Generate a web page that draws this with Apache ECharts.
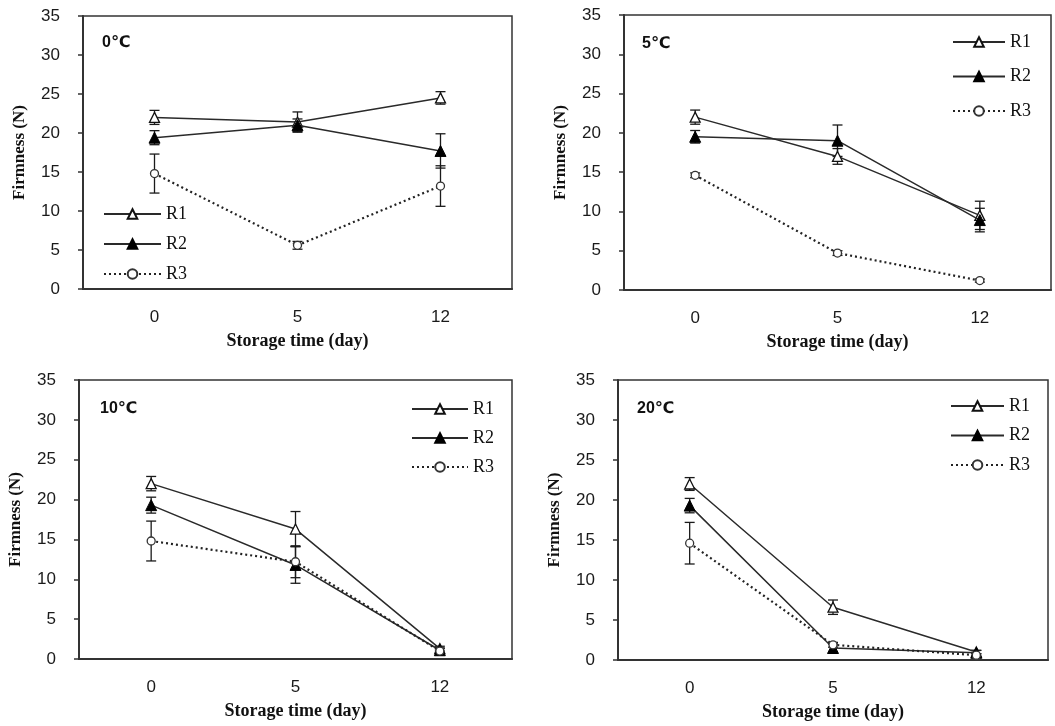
<!DOCTYPE html>
<html>
<head>
<meta charset="utf-8">
<script src="https://cdn.jsdelivr.net/npm/echarts@6/dist/echarts.min.js"></script>
<style>
html,body{margin:0;padding:0;background:#fff;}
#chart{width:1055px;height:726px;}
</style>
</head>
<body>
<div id="chart"></div>
<script>
// ---- data ----
const days = ['0', '5', '12'];
const panelTitles = ['0℃', '5℃', '10℃', '20℃'];
const seriesNames = ['R1', 'R2', 'R3'];

// 0 °C
const r1_0C = [22.0, 21.4, 24.5];
const r1_0C_err = [0.9, 1.3, 0.8];
const r2_0C = [19.4, 21.0, 17.7];
const r2_0C_err = [0.9, 0.8, 2.2];
const r3_0C = [14.8, 5.6, 13.2];
const r3_0C_err = [2.5, 0.5, 2.6];
// 5 °C
const r1_5C = [22.0, 17.0, 9.5];
const r1_5C_err = [0.9, 1.0, 1.8];
const r2_5C = [19.5, 19.0, 8.9];
const r2_5C_err = [0.8, 2.0, 1.5];
const r3_5C = [14.6, 4.7, 1.2];
const r3_5C_err = [0.3, 0.3, 0.2];
// 10 °C
const r1_10C = [22.0, 16.3, 1.3];
const r1_10C_err = [0.9, 2.2, 0.3];
const r2_10C = [19.3, 11.8, 1.1];
const r2_10C_err = [1.0, 2.3, 0.3];
const r3_10C = [14.8, 12.2, 1.0];
const r3_10C_err = [2.5, 2.0, 0.3];
// 20 °C
const r1_20C = [22.0, 6.6, 1.0];
const r1_20C_err = [0.8, 0.9, 0.2];
const r2_20C = [19.3, 1.5, 0.9];
const r2_20C_err = [0.9, 0.5, 0.3];
const r3_20C = [14.6, 1.9, 0.6];
const r3_20C_err = [2.6, 0.3, 0.2];

const yMin = 0, yMax = 35, yStep = 5;

// ---- layout / style ----
const panelData = [
  [[r1_0C, r1_0C_err], [r2_0C, r2_0C_err], [r3_0C, r3_0C_err]],
  [[r1_5C, r1_5C_err], [r2_5C, r2_5C_err], [r3_5C, r3_5C_err]],
  [[r1_10C, r1_10C_err], [r2_10C, r2_10C_err], [r3_10C, r3_10C_err]],
  [[r1_20C, r1_20C_err], [r2_20C, r2_20C_err], [r3_20C, r3_20C_err]]
];
const grids = [
  {left: 83, top: 16, width: 429, height: 273},
  {left: 624, top: 15, width: 427, height: 275},
  {left: 79, top: 380, width: 433, height: 279},
  {left: 618, top: 380, width: 430, height: 280}
];
const titlePos = [[97, 30], [637, 31], [95, 396], [632, 396]];
const legendPos = [
  {left: 98, top: 200, itemWidth: 57, itemGap: 12},
  {left: 947, top: 28, itemWidth: 52, itemGap: 16.5},
  {left: 406, top: 395, itemWidth: 56, itemGap: 11},
  {left: 945, top: 392, itemWidth: 53, itemGap: 11.5}
];
const lineColor = '#2a2a2a';
const seriesStyles = [
  {symbol: 'triangle', symbolSize: 10, itemStyle: {color: '#fff', borderColor: '#111', borderWidth: 1.3}, lineStyle: {color: lineColor, width: 1.5, type: 'solid'}},
  {symbol: 'triangle', symbolSize: 11, itemStyle: {color: '#000', borderColor: '#000', borderWidth: 1}, lineStyle: {color: lineColor, width: 1.5, type: 'solid'}},
  {symbol: 'circle', symbolSize: 8, itemStyle: {color: '#fff', borderColor: '#333', borderWidth: 1.3}, lineStyle: {color: '#222', width: 2.2, type: [2, 3]}}
];

const tickFont = "'Liberation Sans', 'DejaVu Sans', sans-serif";
const serifFont = "'Liberation Serif', 'DejaVu Serif', serif";

function errRender(params, api) {
  const x = api.value(0);
  const lo = api.coord([x, api.value(1)]);
  const hi = api.coord([x, api.value(2)]);
  const w = 5;
  const st = {stroke: '#1a1a1a', lineWidth: 1.3};
  return {
    type: 'group',
    children: [
      {type: 'line', shape: {x1: lo[0], y1: lo[1], x2: hi[0], y2: hi[1]}, style: st},
      {type: 'line', shape: {x1: hi[0] - w, y1: hi[1], x2: hi[0] + w, y2: hi[1]}, style: st},
      {type: 'line', shape: {x1: lo[0] - w, y1: lo[1], x2: lo[0] + w, y2: lo[1]}, style: st}
    ]
  };
}

const option = {
  animation: false,
  backgroundColor: '#fff',
  title: [],
  legend: [],
  grid: [],
  xAxis: [],
  yAxis: [],
  series: []
};

grids.forEach((g, i) => {
  option.grid.push(Object.assign({show: true, borderColor: '#333', borderWidth: 1.5, backgroundColor: 'transparent'}, g));
  option.title.push({
    text: panelTitles[i], left: titlePos[i][0], top: titlePos[i][1],
    textStyle: {fontFamily: tickFont, fontWeight: 'bold', fontSize: 16, color: '#111'}
  });
  option.legend.push(Object.assign({
    orient: 'vertical',
    data: seriesNames,
    itemHeight: 12,
    selectedMode: false,
    textStyle: {fontFamily: serifFont, fontSize: 18, color: '#111'}
  }, legendPos[i]));
  option.xAxis.push({
    type: 'category', gridIndex: i, data: days, boundaryGap: true,
    name: 'Storage time (day)', nameLocation: 'middle', nameGap: 43,
    nameTextStyle: {fontFamily: serifFont, fontWeight: 'bold', fontSize: 18, color: '#111'},
    axisLine: {lineStyle: {color: '#333', width: 2}},
    axisTick: {alignWithLabel: true, length: 5, lineStyle: {color: '#333', width: 1.5}},
    axisLabel: {fontFamily: tickFont, fontSize: 17, color: '#1a1a1a', margin: 20},
    splitLine: {show: false}
  });
  option.yAxis.push({
    type: 'value', gridIndex: i, min: yMin, max: yMax, interval: yStep,
    name: 'Firmness (N)', nameLocation: 'middle', nameGap: 55,
    nameTextStyle: {fontFamily: serifFont, fontWeight: 'bold', fontSize: 17, color: '#111'},
    axisLine: {show: true, lineStyle: {color: '#333', width: 2}},
    axisTick: {show: true, length: 5, lineStyle: {color: '#333', width: 1.5}},
    axisLabel: {fontFamily: tickFont, fontSize: 17, color: '#1a1a1a', margin: 23},
    splitLine: {show: false}
  });
  panelData[i].forEach((pair, s) => {
    const means = pair[0], errs = pair[1];
    option.series.push({
      type: 'custom', name: seriesNames[s] + ' err', xAxisIndex: i, yAxisIndex: i,
      renderItem: errRender,
      encode: {x: 0, y: [1, 2]},
      data: means.map((m, k) => [k, m - errs[k], m + errs[k]]),
      z: 2, silent: true
    });
    option.series.push(Object.assign({
      type: 'line', name: seriesNames[s], xAxisIndex: i, yAxisIndex: i,
      data: means, z: 3 + s, showSymbol: true
    }, JSON.parse(JSON.stringify(seriesStyles[s]))));
  });
});

const chart = echarts.init(document.getElementById('chart'), null, {renderer: 'canvas'});
chart.setOption(option);
</script>
</body>
</html>
